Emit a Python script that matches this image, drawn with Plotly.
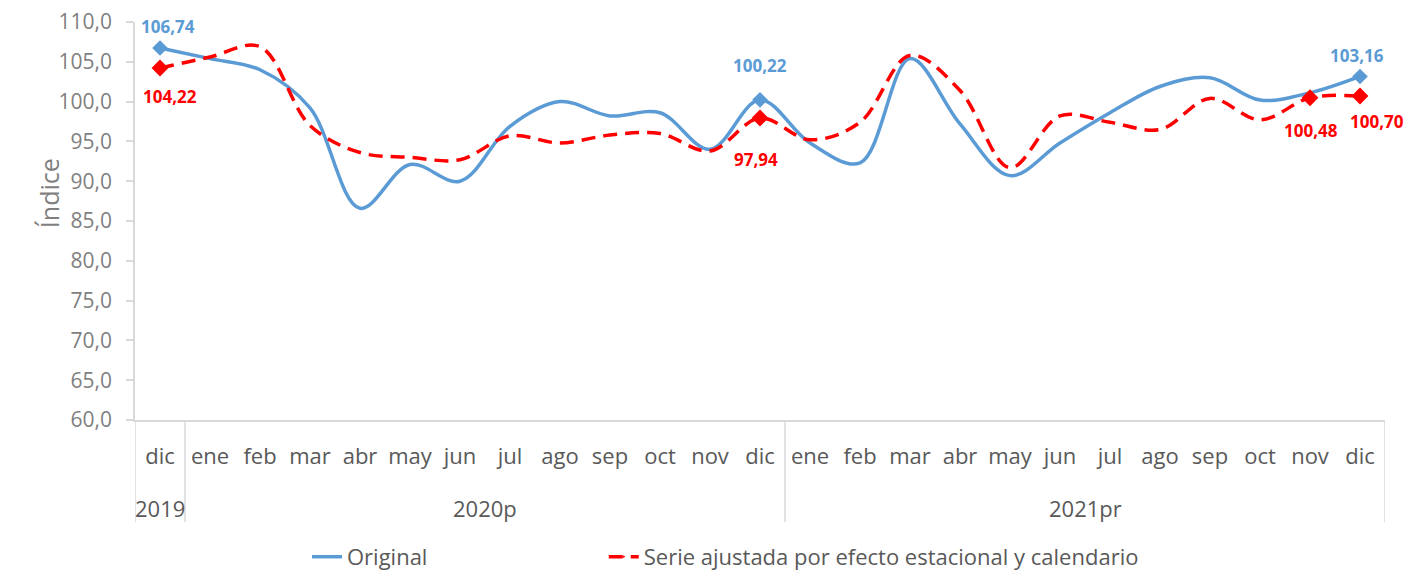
import plotly.graph_objects as go

# ---- data ----
months = ["dic",
          "ene", "feb", "mar", "abr", "may", "jun", "jul", "ago", "sep", "oct", "nov", "dic",
          "ene", "feb", "mar", "abr", "may", "jun", "jul", "ago", "sep", "oct", "nov", "dic"]
years = ["2019", "2020p", "2021pr"]
year_counts = [1, 12, 12]

original = [106.74,
            105.4, 104.0, 99.2, 86.6, 92.1, 90.0, 96.9, 100.0, 98.2, 98.6, 94.0, 100.22,
            94.8, 92.3, 105.4, 97.2, 90.7, 94.8, 98.6, 101.9, 103.0, 100.2, 101.1, 103.16]
ajustada = [104.22,
            105.6, 106.9, 97.0, 93.6, 93.0, 92.7, 95.7, 94.8, 95.8, 96.0, 93.8, 97.94,
            95.2, 97.4, 105.8, 101.4, 91.7, 98.2, 97.4, 96.5, 100.4, 97.7, 100.48, 100.70]

# indices of points carrying a marker + data label
orig_labeled = [0, 12, 24]
adj_labeled = [0, 12, 23, 24]

series_names = ["Original", "Serie ajustada por efecto estacional y calendario"]

# ---- styles ----
BLUE = "#5B9BD5"
RED = "#FF0000"
GREY = "#595959"
LGREY = "#7F7F7F"
AXIS = "#D9D9D9"
FONT = "Open Sans"

x = list(range(len(months)))

def fmt(v):
    return f"{v:.2f}".replace(".", ",")

fig = go.Figure()

fig.add_trace(go.Scatter(
    x=x, y=original, name=series_names[0], mode="lines+markers", legend="legend",
    line=dict(color=BLUE, width=3.5, shape="spline", smoothing=1.0),
    marker=dict(symbol="diamond", color=BLUE, opacity=1, line=dict(width=0),
                size=[12 if i in orig_labeled else 0 for i in x]),
    hoverinfo="skip", cliponaxis=False,
))
fig.add_trace(go.Scatter(
    x=x, y=ajustada, name=series_names[1], mode="lines+markers", legend="legend2",
    line=dict(color=RED, width=3.5, shape="spline", smoothing=1.0, dash="14px,8px"),
    marker=dict(symbol="diamond", color=RED, opacity=1, line=dict(width=0),
                size=[13 if i in adj_labeled else 0 for i in x]),
    hoverinfo="skip", cliponaxis=False,
))

annotations = []
# data labels (offsets in pixels)
orig_offsets = {0: (8, 21), 12: (0, 34), 24: (-3, 21)}
adj_offsets = {0: (10, -28), 12: (-4, -41), 23: (1, -33), 24: (17, -25)}
for i in orig_labeled:
    dx, dy = orig_offsets[i]
    annotations.append(dict(x=i, y=original[i], xref="x", yref="y", text=f"<b>{fmt(original[i])}</b>",
                            showarrow=False, xshift=dx, yshift=dy,
                            font=dict(family=FONT, size=17, color=BLUE)))
for i in adj_labeled:
    dx, dy = adj_offsets[i]
    annotations.append(dict(x=i, y=ajustada[i], xref="x", yref="y", text=f"<b>{fmt(ajustada[i])}</b>",
                            showarrow=False, xshift=dx, yshift=dy,
                            font=dict(family=FONT, size=17, color=RED)))

# year group labels and dividers
shapes = []
start = 0
bounds = [-0.5]
for yr, n in zip(years, year_counts):
    center = start + (n - 1) / 2
    annotations.append(dict(x=center, y=-0.222, xref="x", yref="paper", text=yr, showarrow=False,
                            yanchor="middle", font=dict(family=FONT, size=22, color=GREY)))
    start += n
    bounds.append(start - 0.5)
for b in bounds:
    shapes.append(dict(type="line", xref="x", yref="paper", x0=b, x1=b, y0=0, y1=-0.256,
                       line=dict(color=AXIS, width=1.5)))

# y-axis title
annotations.append(dict(x=-0.084, y=0.57, xref="paper", yref="paper", text="Índice", textangle=-90,
                        showarrow=False, font=dict(family=FONT, size=25, color=LGREY)))

legend_common = dict(orientation="h", xanchor="left", y=-0.344, yanchor="middle",
                     bgcolor="rgba(0,0,0,0)", font=dict(family=FONT, size=22, color=GREY))

fig.update_layout(
    width=1408, height=565,
    margin=dict(l=127, r=31, t=14, b=153, autoexpand=False),
    paper_bgcolor="white", plot_bgcolor="white",
    separators=",.",
    font=dict(family=FONT, size=22, color=GREY),
    showlegend=True,
    legend=dict(x=0.1376, **legend_common),
    legend2=dict(x=0.375, **legend_common),
    annotations=annotations,
    shapes=shapes,
)
fig.update_xaxes(
    range=[-0.5, len(months) - 0.5], tickvals=x, ticktext=months,
    showgrid=False, zeroline=False, showline=True, linecolor=AXIS, linewidth=1.5,
    ticks="", ticklabelstandoff=16, tickfont=dict(family=FONT, size=22, color=GREY),
    ticklabeloverflow="allow", fixedrange=True,
)
fig.update_yaxes(
    range=[60, 110], dtick=5, tick0=60, tickformat=".1f",
    showgrid=False, zeroline=False, showline=True, linecolor=AXIS, linewidth=1.5,
    ticks="outside", ticklen=7, tickcolor=AXIS, tickwidth=1.5,
    tickfont=dict(family=FONT, size=21, color=LGREY), ticklabelstandoff=10,
    ticklabeloverflow="allow", fixedrange=True,
)

fig.write_html("out.html")
